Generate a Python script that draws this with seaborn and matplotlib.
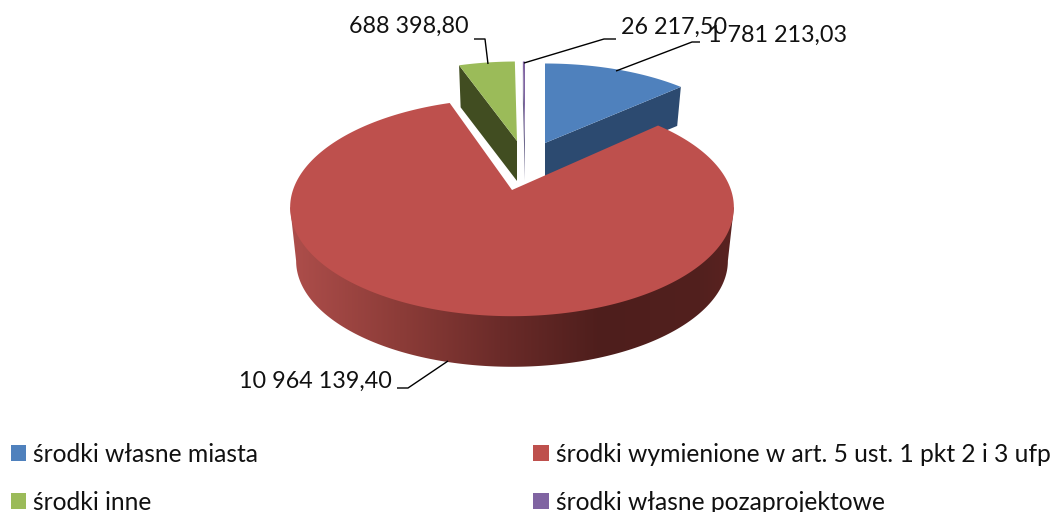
import numpy as np
import matplotlib
matplotlib.use("Agg")
import matplotlib.pyplot as plt
from matplotlib.patches import Patch, Polygon
import seaborn as sns

# ---- data ----
categories = ["środki własne miasta", "środki wymienione w art. 5 ust. 1 pkt 2 i 3 ufp",
              "środki inne", "środki własne pozaprojektowe"]
values = [1781213.03, 10964139.40, 688398.80, 26217.50]

# ---- styles ----
sns.set_theme(style="white")
plt.rcParams["font.family"] = ["Lato", "DejaVu Sans"]
top_colors = sns.color_palette(["#4F81BD", "#BE504D", "#9BBB59", "#8064A2"])
wall_colors = ["#2C4A70", "#7A2E2C", "#414D21", "#6F6A8E"]
FS = 16.8
FS_LEG = 17.7

# ---- layout (pixel axes) ----
K, A, B = 0.16, 106.0, 219.0
layout = [
    dict(apex=(545, 143), sx=.93, sy=.87, drop=37.5),
    dict(apex=(512, 190), sx=1.0, sy=1.0, drop=54.0),
    dict(apex=(517, 141), sx=.93, sy=.87, drop=40.0),
    dict(apex=(525, 141), sx=.93, sy=.87, drop=40.0),
]
SHRINK = 0.973

fig = plt.figure(figsize=(10.51, 5.12), dpi=100)
ax = fig.add_axes([0, 0, 1, 1])
ax.set_xlim(0, 1051)
ax.set_ylim(512, 0)
ax.axis("off")


def rim(theta, L, bottom=False):
    X, Y = np.sin(theta), np.cos(theta)
    w = 1 + K * Y
    s = SHRINK if bottom else 1.0
    d = L["drop"] if bottom else 0.0
    return (L["apex"][0] + s * L["sx"] * B * X / w,
            L["apex"][1] + d - s * L["sy"] * A * Y / w)


def apex_pt(L, bottom=False):
    return (L["apex"][0], L["apex"][1] + (L["drop"] if bottom else 0.0))


fractions = np.array(values) / sum(values)
edges = np.concatenate([[0], np.cumsum(fractions)]) * 2 * np.pi
spans = list(zip(edges[:-1], edges[1:]))


def draw_top(i, z):
    th = np.linspace(*spans[i], 400)
    x, y = rim(th, layout[i])
    ax.fill(np.r_[layout[i]["apex"][0], x], np.r_[layout[i]["apex"][1], y],
            color=top_colors[i], lw=0, zorder=z)


def cut_face(i, theta, z):
    L = layout[i]
    a, ab = apex_pt(L), apex_pt(L, True)
    p, pb = rim(theta, L), rim(theta, L, True)
    ax.fill([a[0], p[0], pb[0], ab[0]], [a[1], p[1], pb[1], ab[1]],
            color=wall_colors[i], lw=0, zorder=z)


# back slices
cut_face(0, spans[0][1], 2)
draw_top(0, 3)
cut_face(2, spans[2][0], 2)
draw_top(2, 3)
cut_face(3, spans[3][0], 2)
draw_top(3, 3)

# red outer wall: a horizontal shading clipped to the front silhouette
shade_x = [296, 400, 500, 600, 700, 730]
shade_rgb = np.array([(172, 77, 74), (140, 60, 56), (107, 43, 41),
                      (78, 30, 28), (82, 32, 30), (90, 35, 33)]) / 255
L = layout[1]
th_right = np.arccos(-K)
th_left = 2 * np.pi - th_right
th_front = np.linspace(th_right, th_left, 361)
bx_, by_ = rim(th_front, L, True)
rx_, ry_ = rim(th_right, L)
lx_, ly_ = rim(th_left, L)
ax_, ay_ = apex_pt(L)
outline = Polygon(np.c_[np.r_[ax_, rx_, bx_, lx_], np.r_[ay_, ry_, by_, ly_]], closed=True,
                  transform=ax.transData, fc="none", ec="none")
ax.add_patch(outline)
xs = np.arange(280, 745)
grad = np.stack([np.interp(xs, shade_x, shade_rgb[:, c]) for c in range(3)], axis=-1)[None, :, :]
im = ax.imshow(grad, extent=(280, 745, 380, 90), aspect="auto", zorder=4, interpolation="bilinear")
im.set_clip_path(outline)
ax.set_xlim(0, 1051)
ax.set_ylim(512, 0)
draw_top(1, 5)


# ---- value labels ----
def fmt(v):
    whole, dec = f"{v:.2f}".split(".")
    return f"{int(whole):,}".replace(",", " ") + "," + dec


leaders = [
    ([616, 692, 700], [71, 42, 42], (708, 35), "left"),
    ([448, 408, 397], [361, 388, 388], (392, 381), "right"),
    ([488, 485, 474], [64, 39, 39], (469, 26), "right"),
    ([524, 604, 616], [63, 39, 39], (621, 27), "left"),
]
for v, (lx, ly, (tx, ty), ha) in zip(values, leaders):
    ax.plot(lx, ly, color="black", lw=1.0, zorder=6, solid_capstyle="butt")
    ax.text(tx, ty, fmt(v), ha=ha, va="center", fontsize=FS, color="#111111", zorder=7)

# ---- legend ----
order = [0, 2, 1, 3]
handles = [Patch(color=top_colors[i], lw=0, label=categories[i]) for i in order]
leg = ax.legend(handles=handles, ncol=2, frameon=False, fontsize=FS_LEG,
                loc="upper left", bbox_to_anchor=(11 / 1051, 1 - 442.5 / 512),
                bbox_transform=ax.transAxes, borderpad=0, borderaxespad=0,
                handlelength=0.62, handleheight=0.62, handletextpad=0.28,
                columnspacing=11.2, labelspacing=1.03)
for t in leg.get_texts():
    t.set_color("#111111")

fig.savefig("out.png", dpi=100)
